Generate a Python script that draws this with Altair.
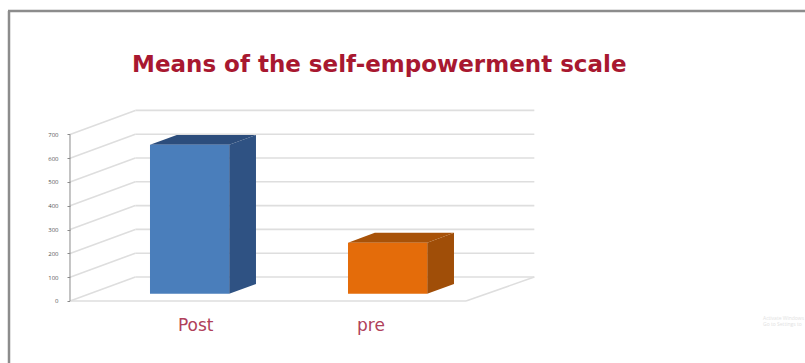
import altair as alt
import pandas as pd

# Chart content
categories = ["Post", "pre"]
means = [626, 215]
tick_values = [0, 100, 200, 300, 400, 500, 600, 700]
title_text = "Means of the self-empowerment scale"
notice_lines = ["Activate Windows", "Go to Settings to"]

front_colors = ["#4a7ebb", "#e46c0a"]
side_colors = ["#2f5283", "#a04e08"]
top_colors = ["#2c4d7c", "#a85208"]
grid_color = "#dedede"

# Oblique projection used for the fake 3D look
DEPTH_X = 0.33    # category units per unit of depth
DEPTH_Y = 100.8   # value units per unit of depth
BAR_HALF = 0.2
BAR_NEAR, BAR_FAR = 0.3, 0.71


def px(x, depth):
    return x + DEPTH_X * depth


def py(v, depth):
    return v + DEPTH_Y * depth


x_scale = alt.Scale(domain=[-0.3535, 3.712], range=[0, 805], nice=False, zero=False)
y_scale = alt.Scale(domain=[-260.5, 844.5], nice=False, zero=False)
value_axis = alt.Axis(
    values=tick_values,
    offset=-70,
    domain=False,
    grid=False,
    tickSize=3,
    tickColor="#8a8a8a",
    labelFontSize=6,
    labelColor="#555555",
    labelPadding=9,
    labelFont="Open Sans",
    format="d",
)
X = alt.X("x:Q", scale=x_scale, axis=None)
Y = alt.Y("y:Q", scale=y_scale, title=None, axis=value_axis)

# Walls and floor
wall_rows = []
for t in tick_values:
    wall_rows += [
        {"line": f"l{t}", "x": px(0, 0), "y": py(t, 0)},
        {"line": f"l{t}", "x": px(0, 1), "y": py(t, 1)},
        {"line": f"b{t}", "x": px(0, 1), "y": py(t, 1)},
        {"line": f"b{t}", "x": px(2.015, 1), "y": py(t, 1)},
    ]
wall_rows += [
    {"line": "f", "x": px(0, 0), "y": 0},
    {"line": "f", "x": px(2, 0), "y": 0},
    {"line": "r", "x": px(2, 0), "y": 0},
    {"line": "r", "x": px(2.015, 1), "y": py(0, 1)},
]
walls = alt.Chart(pd.DataFrame(wall_rows)).mark_line(color=grid_color, strokeWidth=1.6).encode(
    x=X, y=Y, detail="line:N", order=alt.Order("x:Q")
)

# Vertical value axis line
axis_rule = alt.Chart(pd.DataFrame({"x": [0], "y": [0], "y2": [max(tick_values)]})).mark_rule(
    color="#8a8a8a", strokeWidth=1
).encode(x=X, y=Y, y2="y2:Q")

# Bar faces
bar_layers = []
for i, value in enumerate(means):
    x0 = i + 0.505 - BAR_HALF
    x1 = i + 0.505 + BAR_HALF
    xn0, xn1 = px(x0, BAR_NEAR), px(x1, BAR_NEAR)
    xf0, xf1 = px(x0, BAR_FAR), px(x1, BAR_FAR)
    bn, bf = py(0, BAR_NEAR), py(0, BAR_FAR)
    tn, tf = py(value, BAR_NEAR), py(value, BAR_FAR)

    side = pd.DataFrame({"x": [xn1, xf1], "y": [tn, tf], "y2": [bn, bf]})
    top = pd.DataFrame({"x": [xn0, xf0, xn1, xf1], "y": [tn, tf, tf, tf], "y2": [tn, tn, tn, tf]})
    front = pd.DataFrame({"x": [xn0], "x2": [xn1], "y": [tn], "y2": [bn]})

    bar_layers += [
        alt.Chart(side).mark_area(color=side_colors[i]).encode(x=X, y=Y, y2="y2:Q"),
        alt.Chart(top).mark_area(color=top_colors[i]).encode(x=X, y=Y, y2="y2:Q"),
        alt.Chart(front).mark_rect(color=front_colors[i]).encode(x=X, x2="x2:Q", y=Y, y2="y2:Q"),
    ]

# Category labels below the floor
cat_df = pd.DataFrame({"x": [0.635, 1.52], "y": [-104, -104], "label": categories})
cat_labels = alt.Chart(cat_df).mark_text(
    font="DejaVu Sans", fontSize=17, color="#b0405a", align="center", baseline="middle"
).encode(x=X, y=Y, text="label:N")

# Faint system notice in the lower right corner
notice_df = pd.DataFrame({"x": [3.5, 3.5], "y": [-70, -96], "label": notice_lines})
notice = alt.Chart(notice_df).mark_text(
    font="Open Sans", fontSize=5, color="#e2e2e2", align="left", baseline="middle"
).encode(x=X, y=Y, text="label:N")

# Slide frame along the top and left edges
frame_color = "#8c8c8c"
frame_top = alt.Chart(pd.DataFrame({"a": [0]})).mark_rule(color=frame_color, strokeWidth=2.5).encode(
    x=alt.value(8), x2=alt.value(805), y=alt.value(-89)
)
frame_left = alt.Chart(pd.DataFrame({"a": [0]})).mark_rule(color=frame_color, strokeWidth=2.5).encode(
    x=alt.value(9), y=alt.value(-89), y2=alt.value(263)
)

chart = alt.layer(
    frame_top, frame_left, walls, axis_rule, *bar_layers, cat_labels, notice
).properties(
    width=805,
    height=263,
    padding={"left": 0, "top": 100, "right": 0, "bottom": 0},
    autosize=alt.AutoSizeParams(type="none"),
    background="white",
    title=alt.TitleParams(
        text=title_text,
        anchor="start",
        frame="group",
        dx=132,
        offset=-67,
        font="DejaVu Sans",
        fontSize=23,
        fontWeight=700,
        color="#a81830",
    ),
).configure_view(stroke=None)

chart.save("out.html", embed_options={"renderer": "svg", "actions": False})
